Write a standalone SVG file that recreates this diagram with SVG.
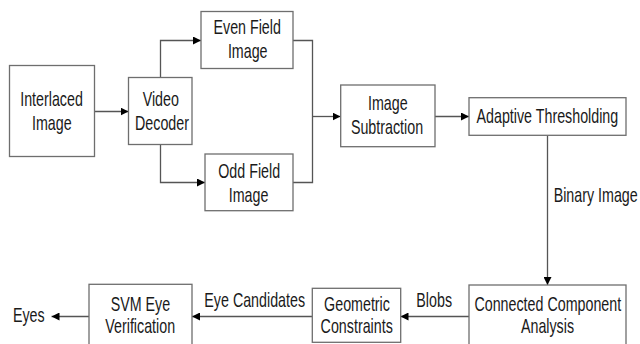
<svg xmlns="http://www.w3.org/2000/svg" width="640" height="344" viewBox="0 0 640 344">
<defs>
<marker id="ah" viewBox="0 0 10 10" refX="10" refY="5" markerWidth="8" markerHeight="8" markerUnits="userSpaceOnUse" orient="auto">
<path d="M0,0 L10,5 L0,10 Z" fill="#000"/>
</marker>
</defs>
<style>
.box{fill:#fff;stroke:#6e6e6e;stroke-width:1.3}
.t{font-family:"Liberation Sans",Arial,sans-serif;font-size:21px;fill:#1a1a1a;text-anchor:middle;transform-box:fill-box;transform-origin:center;transform:scale(0.68,1)}
.c{fill:none;stroke:#555;stroke-width:1.3}
.a{marker-end:url(#ah)}
</style>
<rect width="640" height="344" fill="#fff"/>
<g id="connectors">
<path class="c a" d="M94.5,111.5 H128.5"/>
<path class="c a" d="M160.5,77.5 V40.5 H201"/>
<path class="c a" d="M160.5,144.5 V182.5 H205"/>
<path class="c" d="M293,40.5 H312.5 V182.5 H293"/>
<path class="c a" d="M312.5,116.5 H340.5"/>
<path class="c a" d="M435,116.5 H469"/>
<path class="c a" d="M547.5,135.5 V285"/>
<path class="c a" d="M469,316.5 H400.5"/>
<path class="c a" d="M312.5,316.5 H192"/>
<path class="c a" d="M89,316.5 H51.5"/>
</g>
<g id="interlaced">
<rect class="box" x="9.5" y="65.5" width="85" height="91"/>
<text class="t" x="51.5" y="106">Interlaced</text>
<text class="t" x="51.8" y="130">Image</text>
</g>
<g id="video">
<rect class="box" x="128.5" y="77.5" width="63.5" height="67"/>
<text class="t" x="160.8" y="106">Video</text>
<text class="t" x="162" y="130.5">Decoder</text>
</g>
<g id="even">
<rect class="box" x="201" y="11.5" width="92" height="57"/>
<text class="t" x="247.2" y="34.3">Even Field</text>
<text class="t" x="247.7" y="58.3">Image</text>
</g>
<g id="odd">
<rect class="box" x="205" y="154" width="88" height="56.7"/>
<text class="t" x="249.2" y="177.7">Odd Field</text>
<text class="t" x="248.5" y="201.7">Image</text>
</g>
<g id="subtraction">
<rect class="box" x="340.7" y="85" width="94.3" height="61.7"/>
<text class="t" x="387.8" y="110">Image</text>
<text class="t" x="387" y="134.3">Subtraction</text>
</g>
<g id="adaptive">
<rect class="box" x="469" y="97.7" width="157" height="37.6"/>
<text class="t" x="547.4" y="122.7">Adaptive Thresholding</text>
</g>
<g id="connected">
<rect class="box" x="469" y="285" width="157" height="66"/>
<text class="t" x="547.8" y="310.7">Connected Component</text>
<text class="t" x="547.5" y="333.3">Analysis</text>
</g>
<g id="geometric">
<rect class="box" x="312.3" y="288.3" width="88.4" height="54"/>
<text class="t" x="357" y="310.7">Geometric</text>
<text class="t" x="356.7" y="333.3">Constraints</text>
</g>
<g id="svm">
<rect class="box" x="89" y="284.3" width="103" height="66"/>
<text class="t" x="140.4" y="310.7">SVM Eye</text>
<text class="t" x="140.2" y="333.3">Verification</text>
</g>
<g id="labels">
<text class="t" x="595.7" y="202.3">Binary Image</text>
<text class="t" x="434.2" y="307.3">Blobs</text>
<text class="t" x="254.7" y="307.3">Eye Candidates</text>
<text class="t" x="28.8" y="321.7">Eyes</text>
</g>
</svg>
